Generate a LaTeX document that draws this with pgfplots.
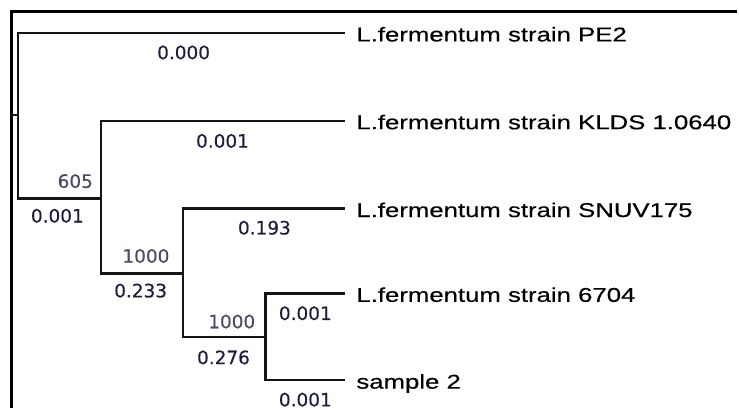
\documentclass[border=0pt]{standalone}
\usepackage{pgfplots}
\pgfplotsset{compat=1.18}
\usepackage{pgfplotstable}
\usepackage{fontspec}
\setmainfont{Liberation Sans}
\newfontfamily\namefont[FakeStretch=1.29,FakeBold=0.35]{Liberation Sans}
\newfontfamily\numfont[FakeBold=0.3]{DejaVu Sans}
\definecolor{treeline}{HTML}{151515}
\definecolor{lencol}{HTML}{1C1C3C}
\definecolor{bootcol}{HTML}{4A4A66}

% tip labels (x, baseline y in pixel rows)
\pgfplotstableread[col sep=comma]{
x,y,label
357,41.5,L.fermentum strain PE2
357,129.5,L.fermentum strain KLDS 1.0640
357,217.5,L.fermentum strain SNUV175
357,302.5,L.fermentum strain 6704
357,389.5,sample 2
}\tiplabels

% branch lengths (centre x, baseline y)
\pgfplotstableread[col sep=comma]{
x,y,label
184,59.3,0.000
223,148,0.001
57.5,223,0.001
265,235,0.193
141,298,0.233
306,320.7,0.001
224,365,0.276
306,407.3,0.001
}\lenlabels

% bootstrap values (right x, baseline y)
\pgfplotstableread[col sep=comma]{
x,y,label
93.3,188.3,605
170,263.3,1000
256,329,1000
}\bootlabels

\begin{document}
\begin{tikzpicture}
\begin{axis}[
  width=739bp, height=409bp, scale only axis,
  xmin=0, xmax=739, ymin=0, ymax=409, y dir=reverse,
  hide axis, clip=false,
]
% invisible extent
\addplot[draw=none] coordinates {(0,0) (739,409)};
% frame (top and left)
\addplot[black, line width=3.3bp] coordinates {(739,11.5) (11.5,11.5) (11.5,409)};
% root stub
\addplot[treeline, line width=2.4bp] coordinates {(11.5,115) (18.3,115)};
% clades
\addplot[treeline, line width=2.4bp] coordinates {(346,33) (18.3,33) (18.3,199) (101.5,199)};
\addplot[treeline, line width=2.4bp] coordinates {(346,121) (101.5,121) (101.5,274) (183.5,274)};
\addplot[treeline, line width=2.4bp] coordinates {(346,209) (183.5,209) (183.5,338) (266,338)};
\addplot[treeline, line width=2.4bp] coordinates {(346,294) (266,294) (266,381) (346,381)};
% labels
\addplot[draw=none, nodes near coords, point meta=explicit symbolic,
  nodes near coords style={anchor=base west, inner sep=0pt, text=black,
    font=\namefont\fontsize{20bp}{24bp}\selectfont}]
  table[x=x, y=y, meta=label] \tiplabels;
\addplot[draw=none, nodes near coords, point meta=explicit symbolic,
  nodes near coords style={anchor=base, inner sep=0pt, text=lencol,
    font=\numfont\fontsize{18.5bp}{22bp}\selectfont}]
  table[x=x, y=y, meta=label] \lenlabels;
\addplot[draw=none, nodes near coords, point meta=explicit symbolic,
  nodes near coords style={anchor=base east, inner sep=0pt, text=bootcol,
    font=\numfont\fontsize{18.5bp}{22bp}\selectfont}]
  table[x=x, y=y, meta=label] \bootlabels;
\end{axis}
\end{tikzpicture}
\end{document}
